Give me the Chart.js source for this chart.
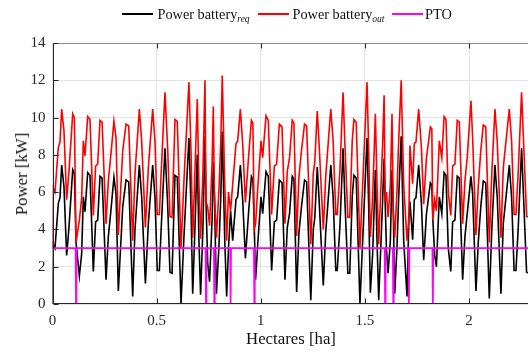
<!DOCTYPE html>
<html lang="en">
<head>
    <meta charset="UTF-8">
    <title>Battery power vs hectares</title>
    <script src="https://cdn.jsdelivr.net/npm/chart.js"></script>
    <style>
        body {
            margin: 0;
            background: #fff;
            width: 528px;
            height: 356px;
            overflow: hidden;
        }
        .wrap {
            position: relative;
            width: 530px;
            height: 356px;
        }
        .sw {
            position: absolute;
            top: 13.3px;
            width: 31px;
            height: 2px;
        }
        .txt {
            position: absolute;
            font-family: 'Liberation Serif', serif;
            color: #111;
            white-space: nowrap;
            line-height: 18px;
        }
        .leg {
            top: 4.5px;
            font-size: 14.3px;
        }
        .leg sub {
            font-size: 9.5px;
            font-style: italic;
            vertical-align: -3px;
            line-height: 0;
        }
        .title {
            font-size: 16.8px;
            line-height: 20px;
        }
    </style>
</head>
<body>
    <div class="wrap">
        <canvas id="powerChart" width="530" height="356"></canvas>

        <!-- legend -->
        <div class="sw" style="left:122px; background:#000;"></div>
        <div class="txt leg" style="left:157.5px;">Power battery<sub>req</sub></div>
        <div class="sw" style="left:258px; background:#ff0000;"></div>
        <div class="txt leg" style="left:292.5px;">Power battery<sub>out</sub></div>
        <div class="sw" style="left:392px; background:#ff00ff;"></div>
        <div class="txt leg" style="left:425px;">PTO</div>

        <!-- axis titles -->
        <div class="txt title" style="left:291px; top:329px; transform:translateX(-50%);">Hectares [ha]</div>
        <div class="txt title" style="left:22px; top:173.5px; transform:translate(-50%,-50%) rotate(-90deg);">Power [kW]</div>
    </div>

    <script>
        // Sample positions along the field (ha)
        const hectares = [
            0.000, 0.004, 0.012, 0.028, 0.036, 0.044, 0.055, 0.068, 0.079, 0.097,
            0.105, 0.113, 0.129, 0.140, 0.148, 0.156, 0.169, 0.180, 0.196, 0.207,
            0.217, 0.228, 0.238, 0.257, 0.268, 0.279, 0.295, 0.305, 0.316, 0.337,
            0.353, 0.366, 0.385, 0.396, 0.417, 0.428, 0.446, 0.460, 0.481, 0.492,
            0.503, 0.513, 0.522, 0.540, 0.553, 0.564, 0.574, 0.588, 0.599, 0.617,
            0.631, 0.655, 0.665, 0.673, 0.681, 0.695, 0.703, 0.711, 0.722, 0.732,
            0.737, 0.745, 0.754, 0.766, 0.772, 0.777, 0.787, 0.799, 0.808, 0.815,
            0.827, 0.836, 0.845, 0.855, 0.865, 0.881, 0.889, 0.902, 0.913, 0.926,
            0.942, 0.955, 0.962, 0.969, 0.975, 0.987, 1.001, 1.009, 1.025, 1.036,
            1.052, 1.065, 1.076, 1.089, 1.102, 1.116, 1.127, 1.138, 1.151, 1.159,
            1.172, 1.183, 1.195, 1.210, 1.220, 1.240, 1.252, 1.259, 1.271, 1.279,
            1.300, 1.312, 1.336, 1.347, 1.360, 1.367, 1.380, 1.395, 1.404, 1.418,
            1.427, 1.439, 1.447, 1.458, 1.476, 1.489, 1.510, 1.518, 1.526, 1.537,
            1.550, 1.558, 1.566, 1.585, 1.592, 1.597, 1.603, 1.611, 1.622, 1.630,
            1.636, 1.643, 1.654, 1.662, 1.674, 1.686, 1.702, 1.711, 1.716, 1.729,
            1.737, 1.745, 1.758, 1.771, 1.782, 1.795, 1.814, 1.821, 1.826, 1.835,
            1.843, 1.857, 1.869, 1.880, 1.889, 1.900, 1.912, 1.921, 1.932, 1.943,
            1.953, 1.969, 1.980, 1.991, 2.009, 2.017, 2.033, 2.044, 2.056, 2.068,
            2.080, 2.097, 2.109, 2.124, 2.135, 2.153, 2.164, 2.193, 2.204, 2.216,
            2.225, 2.236, 2.252, 2.263, 2.276, 2.288, 2.302, 2.313
        ];

        // Power requested from the battery (kW)
        const batteryReq = [
            0.0, 3.2, 3.0, 5.4, 5.7, 7.45, 6.3, 2.6, 4.1, 7.2,
            7.0, 3.3, 1.5, 2.7, 5.75, 4.95, 7.05, 6.9, 1.75, 4.4,
            4.5, 6.85, 6.75, 1.3, 3.6, 4.85, 6.8, 5.9, 0.7, 5.2,
            6.65, 6.55, 0.4, 4.0, 7.45, 5.75, 1.1, 4.3, 7.45, 5.75,
            1.8, 1.8, 4.1, 8.35, 5.3, 1.7, 1.65, 6.9, 6.8, 0.0,
            3.6, 8.9, 5.2, 0.55, 3.1, 8.0, 3.4, 0.5, 4.0, 9.0,
            5.5, 2.2, 1.2, 4.5, 7.6, 6.0, 0.55, 3.1, 5.75, 9.25,
            3.4, 0.4, 3.0, 5.0, 3.4, 5.6, 5.75, 7.45, 5.6, 2.45,
            5.0, 6.85, 6.7, 4.0, 1.3, 3.5, 5.75, 4.85, 7.1, 6.85,
            1.8, 4.4, 4.5, 6.65, 6.5, 1.3, 4.1, 4.85, 6.85, 6.7,
            0.65, 3.8, 5.2, 6.65, 6.55, 0.2, 4.0, 4.6, 7.35, 5.8,
            1.0, 3.9, 7.45, 5.8, 1.8, 1.8, 4.2, 8.35, 5.5, 1.65,
            1.65, 5.75, 6.9, 6.75, 0.0, 3.4, 8.9, 5.2, 0.6, 2.7,
            7.2, 3.4, 0.2, 5.6, 7.8, 5.5, 3.0, 1.65, 3.4, 7.2,
            5.0, 0.55, 3.1, 5.75, 9.0, 3.4, 0.4, 4.6, 5.5, 3.45,
            5.6, 5.7, 7.45, 5.4, 2.35, 4.8, 6.5, 6.4, 4.5, 2.6,
            2.0, 5.75, 4.85, 7.05, 6.9, 3.0, 1.75, 4.4, 4.5, 6.85,
            6.75, 1.3, 3.6, 4.85, 6.85, 5.9, 0.7, 3.3, 5.2, 6.6,
            6.5, 0.3, 4.0, 7.45, 5.75, 0.55, 4.3, 7.45, 5.75, 1.8,
            1.8, 4.1, 8.35, 5.3, 1.7, 1.65, 6.9, 6.8
        ];

        // Power delivered by the battery (kW)
        const batteryOut = [
            3.0, 6.2, 6.0, 8.4, 8.7, 10.45, 9.3, 5.6, 7.1, 10.2,
            10.0, 3.3, 4.5, 5.7, 8.75, 7.95, 10.05, 9.9, 4.75, 7.4,
            7.5, 9.85, 9.75, 4.3, 6.6, 7.85, 9.8, 8.9, 3.7, 8.2,
            9.65, 9.55, 3.4, 7.0, 10.45, 8.75, 4.1, 7.3, 10.45, 8.75,
            4.8, 4.8, 7.1, 11.35, 8.3, 4.7, 4.65, 9.9, 9.8, 3.0,
            6.6, 11.9, 8.2, 3.55, 6.1, 11.0, 6.4, 3.5, 7.0, 12.0,
            5.5, 5.2, 4.2, 7.5, 10.6, 6.0, 3.55, 6.1, 8.75, 12.25,
            6.4, 3.4, 6.0, 5.0, 6.4, 8.6, 8.75, 10.45, 8.6, 5.45,
            8.0, 9.85, 9.7, 4.0, 4.3, 6.5, 8.75, 7.85, 10.1, 9.85,
            4.8, 7.4, 7.5, 9.65, 9.5, 4.3, 7.1, 7.85, 9.85, 9.7,
            3.65, 6.8, 8.2, 9.65, 9.55, 3.2, 7.0, 7.6, 10.35, 8.8,
            4.0, 6.9, 10.45, 8.8, 4.8, 4.8, 7.2, 11.35, 8.5, 4.65,
            4.65, 8.75, 9.9, 9.75, 3.0, 6.4, 11.9, 8.2, 3.6, 5.7,
            10.2, 6.4, 3.2, 8.6, 11.2, 5.5, 6.0, 4.65, 6.4, 10.2,
            5.0, 3.55, 6.1, 8.75, 12.0, 6.4, 3.4, 4.6, 8.5, 6.45,
            8.6, 8.7, 10.45, 8.4, 5.35, 7.8, 9.5, 9.4, 4.5, 5.6,
            5.0, 8.75, 7.85, 10.05, 9.9, 6.0, 4.75, 7.4, 7.5, 9.85,
            9.75, 4.3, 6.6, 7.85, 10.9, 8.9, 3.7, 6.3, 8.2, 9.6,
            9.5, 3.3, 7.0, 10.45, 8.75, 3.55, 7.3, 10.45, 8.75, 4.8,
            4.8, 7.1, 11.35, 8.3, 4.7, 4.65, 9.9, 9.8
        ];

        // PTO load (kW), constant apart from short cut-outs
        const ptoHectares = [
            0, 0.111, 0.113, 0.115, 0.735, 0.737, 0.739, 0.775, 0.777, 0.779,
            0.853, 0.855, 0.857, 0.967, 0.969, 0.971, 1.595, 1.597, 1.599,
            1.634, 1.636, 1.638, 1.709, 1.711, 1.713, 1.824, 1.826, 1.828, 2.35
        ];
        const ptoKw = [
            3, 3, 0, 3, 3, 0, 3, 3, 0, 3,
            3, 0, 3, 3, 0, 3, 3, 0, 3,
            3, 0, 3, 3, 0, 3, 3, 0, 3, 3
        ];

        const xTicks = [0, 0.5, 1, 1.5, 2];
        const yTicks = [0, 2, 4, 6, 8, 10, 12, 14];

        const toPoints = (xs, ys) => xs.map((x, i) => ({ x: x, y: ys[i] }));

        const tickFont = { family: 'Liberation Serif', size: 15 };

        // axis lines, box and inward tick marks drawn over the traces
        const framePlugin = {
            id: 'frame',
            afterDatasetsDraw(chart) {
                const ctx = chart.ctx;
                const a = chart.chartArea;
                const xs = chart.scales.x;
                const ys = chart.scales.y;
                const L = Math.round(a.left) + 0.5;
                const B = Math.round(a.bottom) - 0.5;
                const T = Math.round(a.top) + 0.5;
                ctx.save();
                ctx.lineWidth = 1;

                ctx.strokeStyle = '#8c8c8c';
                ctx.beginPath();
                ctx.moveTo(L, T);
                ctx.lineTo(a.right, T);
                ctx.moveTo(Math.round(a.right) - 0.5, T);
                ctx.lineTo(Math.round(a.right) - 0.5, B);
                ctx.stroke();

                ctx.strokeStyle = '#262626';
                ctx.beginPath();
                ctx.moveTo(L, T);
                ctx.lineTo(L, B);
                ctx.lineTo(a.right, B);
                xTicks.forEach(v => {
                    const px = Math.round(xs.getPixelForValue(v)) + 0.5;
                    ctx.moveTo(px, B);
                    ctx.lineTo(px, B - 5);
                    ctx.moveTo(px, T);
                    ctx.lineTo(px, T + 5);
                });
                yTicks.forEach(v => {
                    const py = Math.round(ys.getPixelForValue(v)) + 0.5;
                    ctx.moveTo(L, py);
                    ctx.lineTo(L + 5, py);
                });
                ctx.stroke();
                ctx.restore();
            }
        };

        new Chart(document.getElementById('powerChart').getContext('2d'), {
            type: 'line',
            data: {
                datasets: [
                    {
                        label: 'Power battery req',
                        data: toPoints(hectares, batteryReq),
                        borderColor: '#000000',
                        borderWidth: 1.6,
                        order: 3
                    },
                    {
                        label: 'Power battery out',
                        data: toPoints(hectares, batteryOut),
                        borderColor: '#ff0000',
                        borderWidth: 1.6,
                        order: 2
                    },
                    {
                        label: 'PTO',
                        data: toPoints(ptoHectares, ptoKw),
                        borderColor: '#ff00ff',
                        borderWidth: 1.8,
                        order: 1
                    }
                ]
            },
            options: {
                responsive: false,
                devicePixelRatio: 1,
                animation: false,
                events: [],
                elements: {
                    point: { radius: 0 },
                    line: { tension: 0, fill: false }
                },
                layout: { padding: { top: 43, right: 0.5, left: 0, bottom: 0 } },
                plugins: {
                    legend: { display: false },
                    tooltip: { enabled: false }
                },
                scales: {
                    x: {
                        type: 'linear',
                        min: 0,
                        max: 2.29,
                        afterBuildTicks: s => { s.ticks = xTicks.map(v => ({ value: v })); },
                        afterFit: s => { s.height = 52; },
                        border: { display: false },
                        grid: { color: '#e3e3e3', drawTicks: false },
                        ticks: {
                            font: tickFont,
                            color: '#262626',
                            padding: 8,
                            maxRotation: 0,
                            autoSkip: false,
                            callback: v => String(v)
                        }
                    },
                    y: {
                        min: 0,
                        max: 14,
                        afterBuildTicks: s => { s.ticks = yTicks.map(v => ({ value: v })); },
                        afterFit: s => { s.width = 52.5; },
                        border: { display: false },
                        grid: { color: '#e3e3e3', drawTicks: false },
                        ticks: {
                            font: tickFont,
                            color: '#262626',
                            padding: 7,
                            callback: v => String(v)
                        }
                    }
                }
            },
            plugins: [framePlugin]
        });
    </script>
</body>
</html>
